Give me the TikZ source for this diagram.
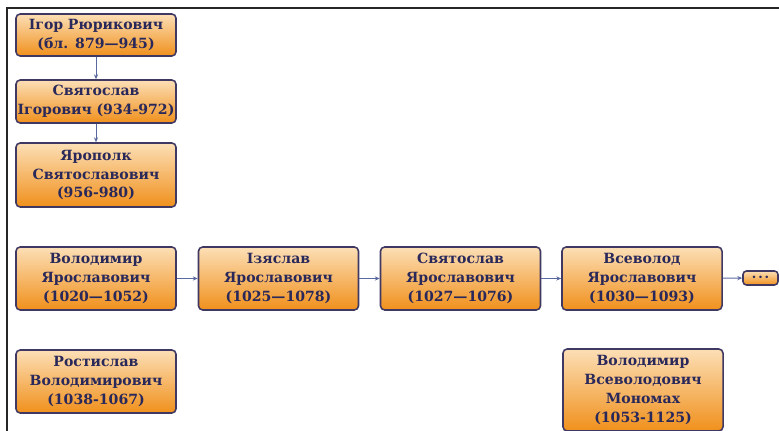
\documentclass[tikz,border=0pt]{standalone}
\usepackage{fontspec}
\setmainfont{DejaVu Serif}
\usepackage{xcolor}
\usepackage{tikz}
\usetikzlibrary{positioning,arrows.meta}
\definecolor{ink}{HTML}{29285A}
\definecolor{rim}{HTML}{3F3862}
\definecolor{peach}{HTML}{FCDFB6}
\definecolor{amber}{HTML}{F0901C}
\definecolor{link}{HTML}{5A68A0}
\tikzset{
  ruler/.style={draw=rim,line width=1.1pt,rounded corners=3pt,top color=peach,bottom color=amber,
    text=ink,font=\fontsize{10}{13.4}\selectfont\bfseries,align=center,inner xsep=0pt,inner ysep=1pt,
    minimum width=4cm,text width=4cm},
  arr/.style={-{Stealth[length=3.5pt,width=3pt]},link,line width=0.6pt},
  frame/.style={line width=1.4pt,black!85},
}
\begin{document}
\begin{tikzpicture}[x=0.025cm,y=-0.025cm]
\useasboundingbox (0,0) rectangle (779,431);
\draw[frame] (6,8) -- (779,8);
\draw[frame] (7,8) -- (7,431);
% upper line
\node[ruler,minimum height=1.05cm] (igor) at (96,35) {Ігор Рюрикович\\(бл. 879---945)};
\node[ruler,minimum height=1.075cm] (svyat) at (96,101.5) {Святослав\\Ігорович~(934-972)};
\node[ruler,minimum height=1.6cm] (yarop) at (96,175) {Ярополк\\Святославович\\(956-980)};
\draw[arr] (igor) -- (svyat); \draw[arr] (svyat) -- (yarop);
% sons of Yaroslav
\node[ruler,minimum height=1.575cm] (volod) at (96,278.5) {Володимир\\Ярославович\\(1020---1052)};
\node[ruler,minimum height=1.575cm] (izyas) at (278.5,278.5) {Ізяслав\\Ярославович\\(1025---1078)};
\node[ruler,minimum height=1.575cm] (svyatya) at (460.5,278.5) {Святослав\\Ярославович\\(1027---1076)};
\node[ruler,minimum height=1.575cm] (vsevol) at (642,278.5) {Всеволод\\Ярославович\\(1030---1093)};
\node[ruler,minimum width=0.875cm,text width=,minimum height=0.35cm,inner sep=0pt,rounded corners=2.5pt,font=\fontsize{6}{6}\selectfont] (more) at (760.5,278) {\textbullet\,\textbullet\,\textbullet};
\draw[arr] (volod) -- (izyas); \draw[arr] (izyas) -- (svyatya);
\draw[arr] (svyatya) -- (vsevol); \draw[arr] (vsevol) -- (more);
% grandsons
\node[ruler,minimum height=1.575cm] (rost) at (96,381.5) {Ростислав\\Володимирович\\(1038-1067)};
\node[ruler,minimum height=2.05cm] (monom) at (643,390) {Володимир\\Всеволодович\\Мономах\\(1053-1125)};
\end{tikzpicture}
\end{document}
